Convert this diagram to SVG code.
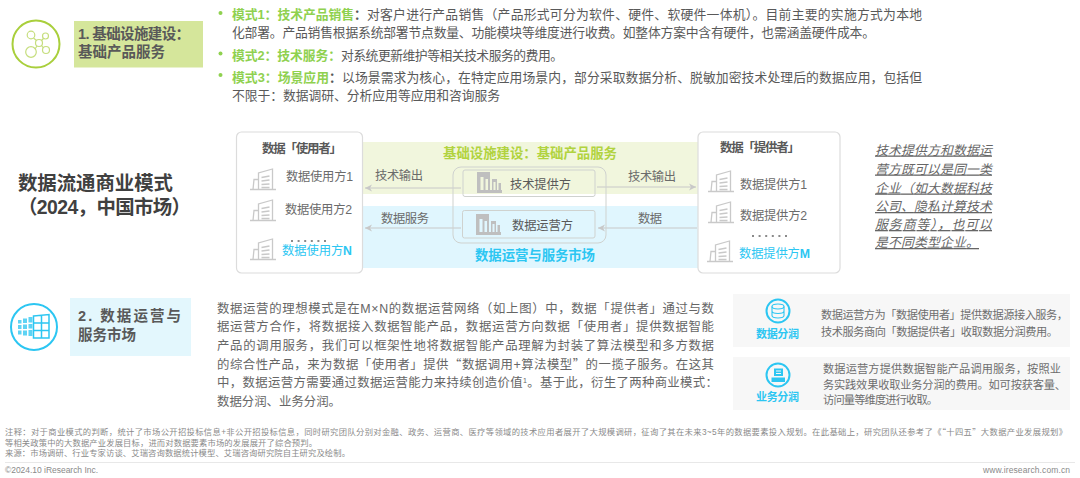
<svg xmlns="http://www.w3.org/2000/svg" xmlns:xlink="http://www.w3.org/1999/xlink" width="1080" height="478" viewBox="0 0 1080 478">
<style>
text{font-family:"Liberation Sans","Noto Sans CJK SC",sans-serif;fill:#595959;white-space:pre}
.cjk{font-family:"Noto Sans CJK SC",sans-serif}
.b{font-weight:700}
.g{fill:#8fd14f;font-weight:700}
.blue{fill:#2cc6f2}
.body{font-size:12.8px}
.p{font-size:12.4px;fill:#666}
.n{font-size:12.3px;fill:#6b6b6b}
.s{font-size:11.2px;fill:#6e6e6e}
.f{font-size:8.3px;fill:#8a8a8a}
.it{font-size:12.9px;font-style:italic;text-decoration:underline;fill:#666}
.card{fill:#fff;stroke:#dcdcdc;stroke-width:1.2}
.inner{fill:none;stroke:#cfd2cf;stroke-width:1}
.bld{fill:none;stroke:#c9c9c9;stroke-width:1.3}
.conn{fill:none;stroke:#c8c8c8;stroke-width:1}
.ring{fill:none;stroke:#2cc6f2;stroke-width:2}
.panel{fill:#f7f7f7}
.dots{fill:none;stroke:#8a8a8a;stroke-width:2;stroke-dasharray:2 4.6}
</style>
<defs>
<marker id="ah" markerUnits="userSpaceOnUse" markerWidth="8" markerHeight="8" refX="7" refY="4" orient="auto"><path d="M0 0.5L7 4L0 7.5L2 4Z" fill="#c8c8c8"/></marker>
<g id="tower"><path class="bld" d="M0 21.5H26M3 21.5L4 11.5H8.500M8.500 21.500V5L22.500 1V21.500M11.500 9.500L19.500 8M11.500 13L19.500 12M11.500 16.500L19.500 16M11.500 19.500H19.500"/></g>
<g id="opb"><path fill="#bfbfbf" fill-rule="evenodd" d="M0 18V0H13V18H15V7H20V18H21.500V11H24V18H25V21H0ZM3.500 5V18H6.500V5ZM8.500 7V18H11V7ZM16.500 10V18H18.500V10Z"/></g>
</defs>

<rect id="band-green" x="363" y="142" width="335" height="52" fill="#f1f6dd"/>
<rect id="band-blue" x="363" y="206" width="335" height="62" fill="#e0f6fe"/>

<g id="section-1">
<circle cx="36" cy="44" r="23.500" fill="none" stroke="#a9cf3c" stroke-width="2"/>
<g fill="none" stroke="#c6de7e" stroke-width="1.200"><circle cx="31" cy="35" r="3.800"/><circle cx="45.500" cy="36" r="3"/><circle cx="39" cy="43" r="3.500"/><circle cx="31" cy="52" r="5.300"/><circle cx="46" cy="50" r="3.500"/><path d="M33.500 38L36.500 40.500M43.500 38.500L41.500 40.500M35 49L37 46M43.500 48L41.500 45.500"/></g>
<rect x="74" y="21" width="129" height="46.500" fill="#d5e69b"/>
<text class="b" x="78" y="39" font-size="14.500" textLength="112">1. 基础设施建设&#xFF1A;</text>
<text class="b" x="78" y="57" font-size="14.500" textLength="87">基础产品服务</text>
</g>

<g id="modes">
<circle cx="220.500" cy="13" r="2" fill="#8fd14f"/><circle cx="220.500" cy="53.500" r="2" fill="#8fd14f"/><circle cx="220.500" cy="75" r="2" fill="#8fd14f"/>
<text class="g body" x="232" y="18.500" textLength="122">模式1&#xFF1A;技术产品销售</text><text class="b body" x="354" y="18.500">&#xFF1A;</text>
<text class="body" x="367" y="18.500" textLength="555">对客户进行产品销售&#xFF08;产品形式可分为软件、硬件、软硬件一体机&#xFF09;。目前主要的实施方式为本地</text>
<text class="body" x="232" y="37" textLength="643">化部署。产品销售根据系统部署节点数量、功能模块等维度进行收费。如整体方案中含有硬件&#xFF0C;也需涵盖硬件成本。</text>
<text class="g body" x="232" y="59.500" textLength="109">模式2&#xFF1A;技术服务&#xFF1A;</text>
<text class="body" x="341" y="59.500" textLength="222">对系统更新维护等相关技术服务的费用。</text>
<text class="g body" x="232" y="81.500" textLength="97">模式3&#xFF1A;场景应用</text><text class="b body" x="329" y="81.500">&#xFF1A;</text>
<text class="body" x="342" y="81.500" textLength="580">以场景需求为核心&#xFF0C;在特定应用场景内&#xFF0C;部分采取数据分析、脱敏加密技术处理后的数据应用&#xFF0C;包括但</text>
<text class="body" x="232" y="100" textLength="268">不限于&#xFF1A;数据调研、分析应用等应用和咨询服务</text>
</g>

<g id="title">
<text class="b" x="18" y="190" font-size="19.400" style="fill:#404040" textLength="155">数据流通商业模式</text>
<text class="b" x="18" y="214" font-size="19.400" style="fill:#404040" textLength="173">&#xFF08;2024&#xFF0C;中国市场&#xFF09;</text>
</g>

<g id="connectors">
<path class="conn" marker-end="url(#ah)" d="M461 188H365"/>
<path class="conn" marker-end="url(#ah)" d="M461 228H365"/>
<path class="conn" marker-end="url(#ah)" d="M597 187H696"/>
<path class="conn" marker-end="url(#ah)" d="M697 228H598"/>
</g>

<g id="connector-labels">
<text class="n" x="375" y="179.500" textLength="48">技术输出</text>
<text class="n" x="381" y="222.500" textLength="48">数据服务</text>
<text class="n" x="628" y="180.500" textLength="48">技术输出</text>
<text class="n" x="638" y="222.500" textLength="24">数据</text>
</g>

<g id="node-users">
<rect class="card" x="236.500" y="132" width="126" height="141" rx="5"/>
<text class="b" x="262" y="152.500" font-size="12.500" textLength="80">数据「使用者」</text>
<use href="#tower" xlink:href="#tower" x="250" y="168"/>
<text class="n" x="286" y="180.500" textLength="67">数据使用方1</text>
<use href="#tower" xlink:href="#tower" x="250" y="199"/>
<text class="n" x="285" y="213.500" textLength="67">数据使用方2</text>
<path class="dots" d="M291 241H327"/>
<use href="#tower" xlink:href="#tower" x="250" y="238"/>
<text class="n blue" style="fill:#2cc6f2" x="282" y="254.500" textLength="70">数据使用方<tspan class="b">N</tspan></text>
</g>

<g id="node-providers">
<rect class="card" x="698" y="132" width="142" height="141" rx="5"/>
<text class="b" x="720" y="151.500" font-size="12.500" textLength="80">数据「提供者」</text>
<use href="#tower" xlink:href="#tower" x="708" y="170"/>
<text class="n" x="740" y="188.500" textLength="67">数据提供方1</text>
<use href="#tower" xlink:href="#tower" x="708" y="201"/>
<text class="n" x="740" y="219.500" textLength="67">数据提供方2</text>
<path class="dots" d="M752 236H789"/>
<use href="#tower" xlink:href="#tower" x="707" y="240"/>
<text class="n blue" style="fill:#2cc6f2" x="739" y="257.500" textLength="71">数据提供方<tspan class="b">M</tspan></text>
</g>

<g id="node-center">
<text class="b" x="443" y="157.500" font-size="13.400" style="fill:#b1d33f" textLength="174">基础设施建设&#xFF1A;基础产品服务</text>
<rect class="inner" x="453" y="167" width="153" height="76" rx="8"/>
<text class="b blue" x="475" y="259.500" font-size="13.400" style="fill:#2cc6f2" textLength="120">数据运营与服务市场</text>
</g>
<g id="node-tech-provider">
<rect class="inner" x="463" y="170" width="132" height="26.500" rx="2"/>
<use href="#opb" xlink:href="#opb" x="477" y="172"/>
<text class="n" style="fill:#595959" x="510" y="188.500" textLength="61">技术提供方</text>
</g>
<g id="node-data-operator">
<rect class="inner" x="462.500" y="210.500" width="132.500" height="27.500" rx="2"/>
<use href="#opb" xlink:href="#opb" x="476" y="214"/>
<text class="n" style="fill:#595959" x="512" y="229.500" textLength="61">数据运营方</text>
</g>

<g id="note">
<text class="it" x="875" y="154.500" textLength="117">技术提供方和数据运</text>
<text class="it" x="875" y="173.500" textLength="117">营方既可以是同一类</text>
<text class="it" x="875" y="192.500" textLength="117">企业&#xFF08;如大数据科技</text>
<text class="it" x="875" y="211" textLength="117">公司、隐私计算技术</text>
<text class="it" x="875" y="229" textLength="117">服务商等&#xFF09;&#xFF0C;也可以</text>
<text class="it" x="875" y="247" textLength="104">是不同类型企业。</text>
</g>

<g id="section-2">
<circle cx="34" cy="327" r="23" class="ring"/>
<path fill="none" stroke="#2cc6f2" stroke-width="1.500" d="M33.500 316L49 314.500V338H33.500ZM41.500 315V338M33.500 323H49M33.500 330.500H49"/>
<path fill="#5ed3f4" d="M18 320h3.500v3.500H18zM23 318.500h4v4.500h-4zM28.500 317h4v5.500h-4zM18 325h3.500v4H18zM23 324.500h4v4.500h-4zM28.500 324h4v4.500h-4zM18 330.500h3.500v4H18zM23 330.500h4v5h-4zM28.500 330h4v6h-4z"/>
<rect x="70" y="298" width="121" height="58" fill="#e3f7fd"/>
<text class="b" x="78" y="321" font-size="14.500" textLength="103">2. 数据运营与</text>
<text class="b" x="78" y="340" font-size="14.500" textLength="58">服务市场</text>
</g>

<g id="paragraph">
<text class="p" x="217" y="312.700" textLength="497">数据运营的理想模式是在M×N的数据运营网络&#xFF08;如上图&#xFF09;中&#xFF0C;数据「提供者」通过与数</text>
<text class="p" x="217" y="331.300" textLength="497">据运营方合作&#xFF0C;将数据接入数据智能产品&#xFF0C;数据运营方向数据「使用者」提供数据智能</text>
<text class="p" x="217" y="349.800" textLength="497">产品的调用服务&#xFF0C;我们可以框架性地将数据智能产品理解为封装了算法模型和多方数据</text>
<text class="p" x="217" y="368.800" textLength="497">的综合性产品&#xFF0C;来为数据「使用者」提供<tspan class="cjk">“</tspan>数据调用+算法模型<tspan class="cjk">”</tspan>的一揽子服务。在这其</text>
<text class="p" x="217" y="387.300" textLength="501">中&#xFF0C;数据运营方需要通过数据运营能力来持续创造价值<tspan font-size="7" dy="-4">1</tspan><tspan dy="4">。基于此&#xFF0C;衍生了两种商业模式&#xFF1A;</tspan></text>
<text class="p" x="217" y="406" textLength="124">数据分润、业务分润。</text>
</g>

<g id="panel-data-share">
<rect class="panel" x="733" y="294" width="337" height="53"/>
<circle cx="778" cy="311" r="11.500" class="ring"/>
<g fill="none" stroke="#2cc6f2" stroke-width="1.100"><ellipse cx="778" cy="306.500" rx="6" ry="2.500"/><path d="M772 306.500V315.500C772 317 775 318 778 318S784 317 784 315.500V306.500M772 311C772 312.500 775 313.500 778 313.500S784 312.500 784 311"/></g>
<text class="b blue" style="fill:#2cc6f2" x="756" y="338" font-size="11" textLength="43">数据分润</text>
<text class="s" x="821" y="319" textLength="247">数据运营方为「数据使用者」提供数据源接入服务&#xFF0C;</text>
<text class="s" x="821" y="336" textLength="237">技术服务商向「数据提供者」收取数据分润费用。</text>
</g>

<g id="panel-business-share">
<rect class="panel" x="733" y="357" width="337" height="53"/>
<circle cx="778" cy="375" r="11.500" class="ring"/>
<path fill="#2cc6f2" fill-rule="evenodd" d="M774 368.500H783V376H774ZM776 370.500V371.500H781V370.500ZM776 373V374H781V373ZM771.500 377.500H785V382H771.500Z"/>
<text class="b blue" style="fill:#2cc6f2" x="756" y="401" font-size="11" textLength="43">业务分润</text>
<text class="s" x="823" y="373" textLength="238">数据运营方提供数据智能产品调用服务&#xFF0C;按照业</text>
<text class="s" x="823" y="389" textLength="243">务实践效果收取业务分润的费用。如可按获客量、</text>
<text class="s" x="823" y="404" textLength="115">访问量等维度进行收取。</text>
</g>

<g id="footer">
<text class="f" x="5" y="435" textLength="1062">注释&#xFF1A;对于商业模式的判断&#xFF0C;统计了市场公开招投标信息+非公开招投标信息&#xFF0C;同时研究团队分别对金融、政务、运营商、医疗等领域的技术应用者展开了大规模调研&#xFF0C;征询了其在未来3~5年的数据要素投入规划。在此基础上&#xFF0C;研究团队还参考了《<tspan class="cjk">“</tspan>十四五<tspan class="cjk">”</tspan>大数据产业发展规划》</text>
<text class="f" x="5" y="445.500" textLength="312">等相关政策中的大数据产业发展目标&#xFF0C;进而对数据要素市场的发展展开了综合预判。</text>
<text class="f" x="5" y="456" textLength="345">来源&#xFF1A;市场调研、行业专家访谈、艾瑞咨询数据统计模型、艾瑞咨询研究院自主研究及绘制。</text>
<path d="M5 462.500H1075" stroke="#e8e8e8" stroke-width="1" fill="none"/>
<text class="f" x="5" y="473" textLength="93" style="font-size:8.500px">©2024.10 iResearch Inc.</text>
<text class="f" x="983" y="473" textLength="87" style="font-size:8.500px">www.iresearch.com.cn</text>
</g>
</svg>
